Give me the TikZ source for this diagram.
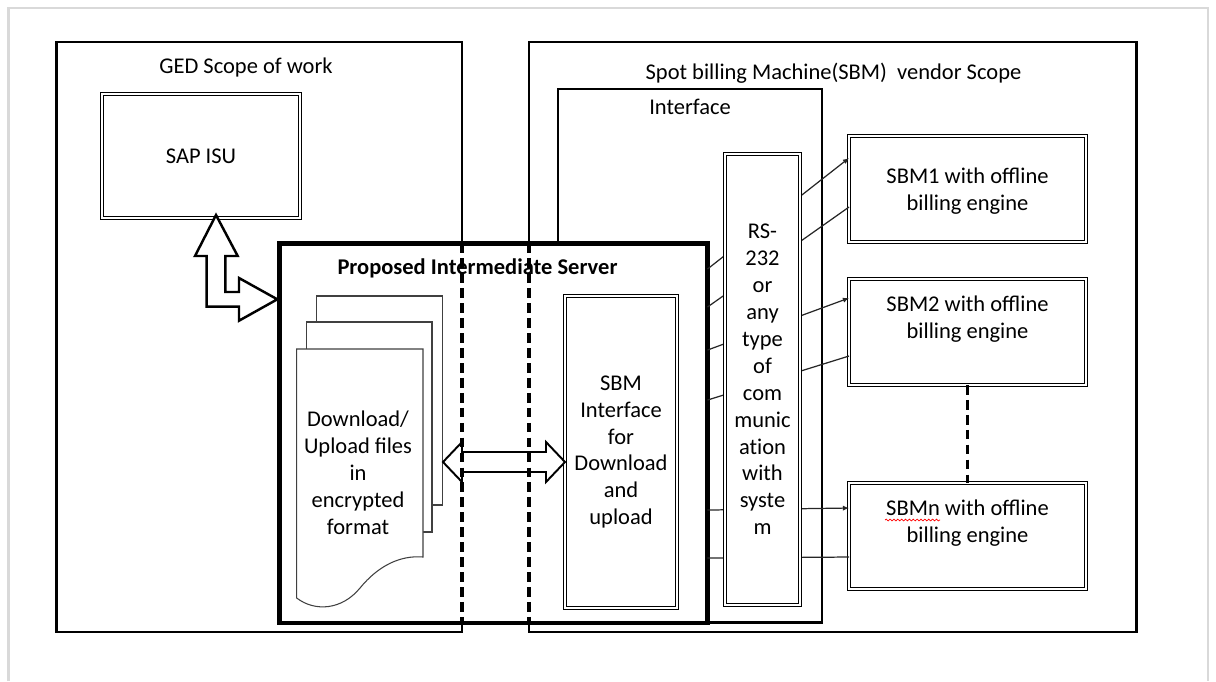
\documentclass[tikz,border=0pt]{standalone}
\usepackage{fontspec}
\setmainfont{Carlito}
\usetikzlibrary{arrows.meta,calc,decorations.pathmorphing}
\tikzset{
	box/.style={draw,rectangle,line width=1.3pt,inner sep=0pt,outer sep=0pt},
	dbox/.style={draw,rectangle,double,double distance=1.1pt,line width=0.5pt,fill=white,inner sep=0pt,outer sep=0pt,align=center},
	txt/.style={align=center,inner sep=0pt},
	link/.style={line width=0.7pt,black!85},
	sep/.style={line width=1.8pt,dash pattern=on 5.5pt off 3pt},
	page/.style={draw=black!75,line width=0.6pt,fill=white},
	blockarrow/.style={draw,line width=1.4pt,fill=white,line join=miter}
}
\begin{document}
\begin{tikzpicture}[x=0.02cm,y=-0.02cm,font=\fontsize{12.8}{15.3}\selectfont]
	\useasboundingbox (0,0) rectangle (1216,681);
	\draw[black!15,line width=1.2pt] (8.5,681) -- (8.5,8) -- (1208,8) -- (1208,681);
	\node[box,minimum width=8.11cm,minimum height=11.8cm] (ged) at (259.25,337) {};
	\node[box,minimum width=12.15cm,minimum height=11.8cm] (vendor) at (832.75,337) {};
	\node[box,minimum width=5.28cm,minimum height=10.67cm] (iface) at (690,355.75) {};
	\node[box,line width=2.8pt,fill=white,minimum width=8.57cm,minimum height=7.59cm] (server) at (493.25,433.25) {};
	\node[txt] (gedlabel) at (246,67) {GED Scope of work};
	\node[txt] (vendorlabel) at (833.5,73) {Spot billing Machine(SBM)~ vendor Scope};
	\node[txt] (ifacelabel) at (690,107) {Interface};
	\node[txt] (serverlabel) at (477.5,268) {\bfseries Proposed Intermediate Server};
	\node[dbox,minimum width=3.96cm,minimum height=2.48cm] (sap) at (201,156) {SAP ISU};
	\node[dbox,minimum width=4.74cm,minimum height=2.12cm] (sbm1) at (967.5,189) {};
	\node[dbox,minimum width=4.74cm,minimum height=2.12cm] (sbm2) at (967.5,332) {};
	\node[dbox,minimum width=4.74cm,minimum height=2.12cm] (sbmn) at (967.5,536) {};
	\node[txt] (sbm1label) at (967.5,191) {SBM1 with offline\\billing engine};
	\node[txt] (sbm2label) at (967.5,319.5) {SBM2 with offline\\billing engine};
	\node[txt] (sbmnlabel) at (967.5,523) {SBMn with offline\\billing engine};
	\draw[red,line width=0.4pt,decorate,decoration={snake,amplitude=0.5pt,segment length=2.2pt}] (885,520) -- (940,520);
	\draw[link,-{Latex[length=3.5pt,width=3pt]}] ($(server.north east)+(0,25.5)$) -- ($(sbm1.north west)+(0,22)$);
	\draw[link] ($(server.north east)+(0,63.5)$) -- ($(sbm1.north west)+(0,71)$);
	\draw[link,-{Latex[length=3.5pt,width=3pt]}] ($(server.north east)+(0,106.5)$) -- ($(sbm2.north west)+(0,19)$);
	\draw[link] ($(server.north east)+(0,156.5)$) -- ($(sbm2.north west)+(0,77)$);
	\draw[link,-{Latex[length=3.5pt,width=3pt]}] ($(server.north east)+(0,266.5)$) -- ($(sbmn.north west)+(0,25)$);
	\draw[link] ($(server.north east)+(0,314.5)$) -- ($(sbmn.north west)+(0,74)$);
	\node[dbox,minimum width=1.5cm,minimum height=9.02cm] (rs) at (762.5,379.5) {RS-\\232\\or\\any\\type\\of\\com\\munic\\at\kern0pt ion\\with\\syste\\m};
	\node[dbox,minimum width=2.24cm,minimum height=6.24cm] (sbmif) at (621,452) {SBM\\Interface\\for\\Download\\and\\upload};
	\draw[page] (316.7,296) rectangle (442.7,505);
	\draw[page] (306.7,322) rectangle (432,532);
	\draw[page] (296.7,349) -- (423,349) -- (423,557) .. controls (400,555) and (378,566) .. (360,588) .. controls (342,610) and (315,612) .. (296.7,598) -- cycle;
	\node[txt] (docs) at (358,473) {Download/\\Upload files\\in\\encrypted\\format};
	\draw[blockarrow] (216,215) -- (237.7,256) -- (225.3,256) -- (225.3,292) -- (239,292) -- (239,278) -- (277.3,299.3) -- (239,320.7) -- (239,306.7) -- (206.7,306.7) -- (206.7,256) -- (195,256) -- cycle;
	\draw[blockarrow,line width=1.1pt] (443,462) -- (462,442) -- (462,452) -- (546,452) -- (546,442) -- (565,462) -- (546,482) -- (546,472) -- (462,472) -- (462,482) -- cycle;
	\draw[sep] (ged.east |- server.north) -- (ged.east |- server.south);
	\draw[sep] (vendor.west |- server.north) -- (vendor.west |- server.south);
	\draw[sep] (sbm2.south) -- (sbmn.north);
\end{tikzpicture}
\end{document}
